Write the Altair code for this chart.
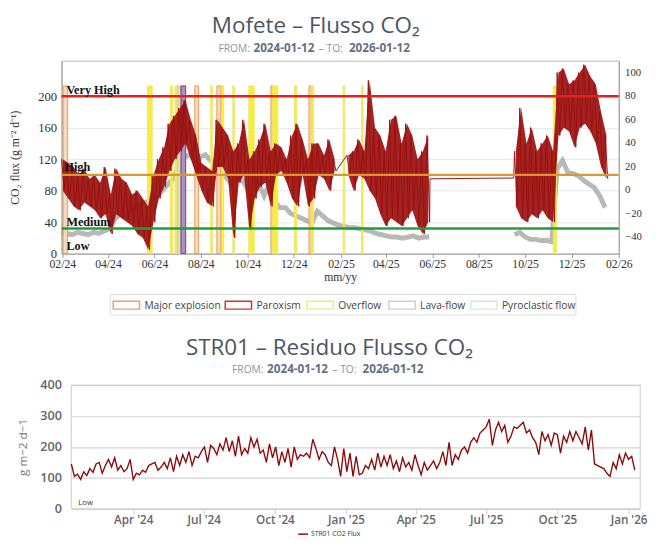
import altair as alt
import pandas as pd

SERIF = "Liberation Serif"
SANS = "Open Sans"

# ---------------- Mofete - CO2 flux (left axis), weekly high / low ----------------
red_seg_start = ["2024-01-31", "2025-02-09", "2025-09-17"]
red_hi = [
    [120, 115, 110, 100, 108, 95, 100, 90, 110, 75, 108, 95, 90, 75, 80, 70, 60, 100,
     120, 135, 165, 175, 185, 195, 170, 150, 115, 110, 105, 170, 160, 150, 130, 140,
     170, 120, 130, 145, 165, 130, 140, 135, 120, 150, 165, 145, 120, 140, 140, 125,
     145, 120],
    [125, 130, 145, 130, 220, 160, 150, 130, 170, 175, 140, 165, 150, 120, 130, 150],
    [130, 185, 140, 160, 130, 140, 150, 130, 230, 235, 215, 220, 230, 240, 225, 215,
     180, 150],
]
red_lo = [
    [80, 70, 60, 55, 65, 60, 55, 45, 50, 25, 50, 45, 40, 35, 25, 20, 5, 40, 70, 85,
     105, 120, 130, 140, 120, 100, 80, 65, 60, 110, 110, 95, 20, 90, 100, 30, 70, 85,
     90, 60, 100, 105, 90, 70, 60, 100, 60, 70, 100, 95, 80, 105],
    [100, 80, 100, 95, 80, 70, 50, 35, 45, 40, 35, 45, 55, 35, 25, 40],
    [60, 45, 40, 50, 45, 55, 45, 40, 150, 160, 155, 135, 160, 165, 155, 140, 110, 95],
]
red_gap_dates = ["2025-05-29", "2025-09-16"]
red_gap_vals = [95, 96]

# ---------------- residuals (right axis), weekly ----------------
gray_seg_start = ["2024-01-31", "2025-09-17"]
gray_vals = [
    [-36, -37, -38, -36, -37, -38, -36, -37, -35, -33, -25, -20, -22, -18, -15, -12,
     -10, -8, -5, 0, 5, 10, 20, 28, 30, 25, 28, 30, 25, 22, 15, 10, 5, 12, 8, 0, 10, 5,
     -5, 5, -10, -15, -15, -20, -22, -24, -26, -28, -18, -22, -26, -28, -30, -31, -32,
     -32, -33, -34, -35, -37, -38, -39, -40, -40, -41, -40, -39, -41, -40, -40],
    [-38, -36, -40, -42, -42, -43, -43, -44, 18, 25, 15, 14, 12, 8, 5, 2, -5, -15],
]

# ---------------- volcanic events ----------------
ev_types = ["Major explosion", "Paroxism", "Overflow", "Lava-flow", "Pyroclastic flow"]
ev_type = ["Major explosion", "Overflow", "Overflow", "Overflow", "Lava-flow",
           "Pyroclastic flow", "Paroxism", "Major explosion", "Overflow",
           "Major explosion", "Overflow", "Overflow", "Overflow", "Major explosion",
           "Overflow", "Overflow", "Major explosion", "Overflow", "Overflow",
           "Overflow", "Overflow"]
ev_start = ["2024-02-02", "2024-05-23", "2024-06-22", "2024-06-28", "2024-07-01",
            "2024-07-02", "2024-07-06", "2024-07-24", "2024-08-14", "2024-08-22",
            "2024-08-28", "2024-09-12", "2024-10-03", "2024-11-01", "2024-11-03",
            "2024-12-02", "2024-12-21", "2024-12-24", "2025-02-04", "2025-02-28",
            "2025-11-07"]
ev_end = ["2024-02-08", "2024-05-29", "2024-06-25", "2024-07-01", "2024-07-12",
          "2024-07-04", "2024-07-12", "2024-07-29", "2024-08-16", "2024-08-27",
          "2024-08-31", "2024-09-14", "2024-10-10", "2024-11-03", "2024-11-10",
          "2024-12-05", "2024-12-24", "2024-12-27", "2025-02-06", "2025-03-02",
          "2025-11-11"]

# ---------------- thresholds ----------------
thr_levels = ["Very High", "High", "Medium"]
thr_values = [200, 100, 32]

# ---------------- STR01 residual CO2 flux (every 4 days) ----------------
str_start = "2024-01-12"
str_vals = [
    145, 105, 112, 95, 120,
    108, 130, 118, 145, 150, 115, 140, 160,
    135, 165, 125, 140, 120, 130, 160,
    95, 115, 110, 125, 118, 140, 145, 150,
    125, 135, 150, 130, 165, 120, 170, 140,
    175, 150, 185, 140, 170, 165, 185,
    200, 150, 205, 195, 175, 210, 190, 230,
    185, 220, 170, 235, 175, 195, 180, 230,
    200, 225, 180, 190, 150, 210, 165,
    200, 140, 185, 150, 195, 135, 200, 160,
    175, 170, 180, 165, 225, 195, 160,
    185, 175, 150, 140, 200, 160, 105, 195,
    120, 180, 105, 170, 110, 115, 140, 130,
    160, 125, 180, 135, 170, 140, 175,
    130, 155, 120, 165, 135, 150, 125, 175,
    140, 110, 150, 125, 140, 155, 130,
    150, 185, 140, 215, 140, 175, 160, 190,
    200, 180, 215, 230, 215, 245, 255,
    265, 290, 205, 255, 280, 250, 270, 215,
    235, 265, 260, 270, 280, 245, 255, 230,
    215, 175, 250, 220, 240, 205, 245,
    240, 180, 235, 215, 250, 220, 250, 230,
    210, 265, 190, 255, 145, 140, 135, 130,
    115, 105, 150, 130, 175, 145, 180,
    160, 170, 125,
]


def iso(ts):
    return ts.strftime("%Y-%m-%dT%H:%M:%SZ")


# ---- tables built from the arrays ----
red_rows, band_rows = [], []
for i, (s, his, los) in enumerate(zip(red_seg_start, red_hi, red_lo)):
    for d, h, l in zip(pd.date_range(s, periods=len(his), freq="7D"), his, los):
        red_rows.append({"date": iso(d), "flux": h})
        red_rows.append({"date": iso(d + pd.Timedelta(hours=84)), "flux": l})
        band_rows.append({"date": iso(d + pd.Timedelta(hours=42)), "hi": h, "lo": l,
                          "seg": i})
for d, v in zip(red_gap_dates, red_gap_vals):
    red_rows.append({"date": iso(pd.Timestamp(d)), "flux": v})
red_df = pd.DataFrame(red_rows)
band_df = pd.DataFrame(band_rows)

gray_rows = []
for i, (s, vals) in enumerate(zip(gray_seg_start, gray_vals)):
    for d, v in zip(pd.date_range(s, periods=len(vals), freq="7D"), vals):
        gray_rows.append({"date": iso(d), "res": v, "seg": i})
gray_df = pd.DataFrame(gray_rows)

ev_df = pd.DataFrame({"type": ev_type, "start": ev_start, "end": ev_end})
thr_df = pd.DataFrame({"level": thr_levels, "value": thr_values})
str_df = pd.DataFrame({
    "day": [iso(d) for d in pd.date_range(str_start, periods=len(str_vals), freq="4D")],
    "flux": str_vals,
})
one = pd.DataFrame({"k": [0]})


def txt(text, x, y, **kw):
    return alt.Chart(one).mark_text(text=text, **kw).encode(x=alt.value(x), y=alt.value(y))


def box(x1, x2, y1, y2, **kw):
    return alt.Chart(one).mark_rect(**kw).encode(
        x=alt.value(x1), x2=alt.value(x2), y=alt.value(y1), y2=alt.value(y2))


def dt(y, m, d):
    return alt.DateTime(year=y, month=m, date=d, utc=True)


# ---------------- top chart ----------------
ev_fill = ["#f6d8bc", "#a493c4", "#f7ee3c", "#b4b4b4", "#b9dcb9"]
ev_stroke = ["#e89a5c", "#d42a2a", "#efe66a", "#c8c8c8", "#cfe8cf"]
leg_stroke = ["#e8a070", "#d43030", "#efe97a", "#cfcfcf", "#d3ead3"]

xs_top = alt.Scale(type="utc", domain=[dt(2024, 1, 31), dt(2026, 2, 1)])
top_ticks = [dt(2024 + (1 + 2 * i) // 12, (1 + 2 * i) % 12 + 1, 1) for i in range(13)]
ax_top_x = alt.Axis(values=top_ticks, format="%m/%y", title="mm/yy", labelFont=SERIF,
                    labelFontSize=12, labelColor="#333", titleFont=SERIF, titleFontSize=12,
                    titleFontWeight="normal", titleColor="#333", titlePadding=3, tickSize=4,
                    tickColor="#999", domainColor="#999", grid=False, labelPadding=1,
                    labelFlush=False, labelOverlap=False)
ys_left = alt.Scale(domain=[0, 245], nice=False, zero=False)
ax_left = alt.Axis(orient="left", values=[0, 40, 80, 120, 160, 200],
                   title="CO₂ flux (g m⁻² d⁻¹)", labelFont=SERIF, labelFontSize=13,
                   labelColor="#333", titleFont=SERIF, titleFontSize=12,
                   titleFontWeight="normal", titleColor="#333", ticks=False, labelPadding=5,
                   minExtent=41, maxExtent=41, titlePadding=0, domainColor="#999",
                   grid=True, gridColor="#e6e6e6")
ys_right = alt.Scale(domain=[-54.1, 109.9], nice=False, zero=False)
ax_right = alt.Axis(orient="right", values=list(range(-40, 101, 20)), title=None,
                    labelFont=SERIF, labelFontSize=11, labelColor="#333", ticks=False,
                    labelPadding=6, domainColor="#999", grid=False)

xenc = alt.X("date:T", scale=xs_top, axis=ax_top_x)

gray = alt.Chart(gray_df).mark_line(color="#888888", strokeWidth=5, opacity=0.6).encode(
    x=xenc, y=alt.Y("res:Q", scale=ys_right, axis=ax_right), detail="seg:N")

events = alt.Chart(ev_df).transform_calculate(lo="0", hi="213").mark_rect(
    strokeWidth=1).encode(
    x=alt.X("start:T", scale=xs_top, axis=ax_top_x),
    x2="end:T",
    y=alt.Y("lo:Q", scale=ys_left, axis=ax_left),
    y2="hi:Q",
    fill=alt.Fill("type:N", scale=alt.Scale(domain=ev_types, range=ev_fill), legend=None),
    stroke=alt.Stroke("type:N", scale=alt.Scale(domain=ev_types, range=ev_stroke),
                      legend=None),
)

band = alt.Chart(band_df).mark_area(color="#9b1010", opacity=0.92).encode(
    x=xenc, y=alt.Y("hi:Q", scale=ys_left, axis=ax_left), y2="lo:Q", detail="seg:N")

red = alt.Chart(red_df).mark_line(color="#9b1010", strokeWidth=1).encode(
    x=xenc, y=alt.Y("flux:Q", scale=ys_left, axis=ax_left))

rules = alt.Chart(thr_df).mark_rule(strokeWidth=2.5).encode(
    y=alt.Y("value:Q", scale=ys_left, axis=ax_left),
    color=alt.Color("level:N", scale=alt.Scale(
        domain=thr_levels, range=["#e3201b", "#d99a2b", "#1f9e3e"]), legend=None))

lab_kw = dict(font=SERIF, fontSize=12.5, fontWeight="bold", color="#111",
              align="left", baseline="middle")
top_texts = [
    txt("Very High", 5, 30, **lab_kw),
    txt("High", 3, 109, **lab_kw),
    txt("Medium", 5, 166, **lab_kw),
    txt("Low", 5, 190, **lab_kw),
    txt("Mofete – Flusso CO₂", 261, -28, font=SANS, fontSize=23, color="#4b5663",
        align="center", baseline="alphabetic"),
    txt("FROM:", 161, -9, font=SANS, fontSize=10.5, color="#8796a5", align="left",
        baseline="alphabetic"),
    txt("2024-01-12", 197, -9, font=SANS, fontSize=12, fontWeight="bold",
        color="#5f7184", align="left", baseline="alphabetic"),
    txt("– TO:", 264, -9, font=SANS, fontSize=10.5, color="#8796a5", align="left",
        baseline="alphabetic"),
    txt("2026-01-12", 295, -9, font=SANS, fontSize=12, fontWeight="bold",
        color="#5f7184", align="left", baseline="alphabetic"),
]

# legend of the event types (box, swatches, labels)
leg_sw_x = [53, 168, 252, 336, 420]
leg_parts = [box(50, 528, 240, 261, fill="white", stroke="#dddddd", strokeWidth=1)]
for name, col, sx in zip(ev_types, leg_stroke, leg_sw_x):
    leg_parts.append(box(sx, sx + 27, 247, 255, fill="white", stroke=col, strokeWidth=1.5))
    leg_parts.append(txt(name, sx + 32, 251.5, font=SANS, fontSize=10.5, color="#444",
                         align="left", baseline="middle"))

left = alt.layer(events, band, red, rules, *top_texts, *leg_parts)
top = alt.layer(gray, left).resolve_scale(y="independent").properties(
    width=572, height=198, view=alt.ViewBackground(stroke="#bbbbbb"))

# ---------------- bottom chart ----------------
xs_bot = alt.Scale(type="utc", domain=[dt(2024, 1, 12), dt(2026, 1, 16)], range=[10, 594])
bot_ticks = [dt(2024, 4, 1), dt(2024, 7, 1), dt(2024, 10, 1), dt(2025, 1, 1),
             dt(2025, 4, 1), dt(2025, 7, 1), dt(2025, 10, 1), dt(2026, 1, 1)]
ax_bot_x = alt.Axis(values=bot_ticks, format="%b '%y", title=None, labelFont=SANS,
                    labelFontSize=12, labelColor="#666", labelFontWeight=600, tickSize=5,
                    tickColor="#cccccc", domain=False, grid=False, labelPadding=1,
                    labelFlush=False, labelOverlap=False)
ax_bot_y = alt.Axis(values=[0, 100, 200, 300, 400], title="g m−2 d−1", labelFont=SANS,
                    labelFontSize=13, labelColor="#666", labelFontWeight=600,
                    titleFont=SANS, titleFontSize=12, titleFontWeight="normal",
                    titleColor="#777", ticks=False, domain=False, labelPadding=0,
                    minExtent=31, maxExtent=31, titlePadding=2, grid=True,
                    gridColor="#d4d4d4", gridWidth=1.2)

str_line = alt.Chart(str_df).mark_line(color="#8b0a0a", strokeWidth=1.4).encode(
    x=alt.X("day:T", scale=xs_bot, axis=ax_bot_x),
    y=alt.Y("flux:Q", scale=alt.Scale(domain=[0, 400], nice=False), axis=ax_bot_y))

bot_mask = box(0.5, 9.5, -2, 129, fill="white", strokeWidth=0)
bot_frame = box(10, 594, 0, 127, fill="transparent", stroke="#cccccc", strokeWidth=1)

bot_texts = [
    txt("STR01 – Residuo Flusso CO₂", 275, -31, font=SANS, fontSize=23,
        color="#4b5663", align="center", baseline="alphabetic"),
    txt("FROM:", 175, -12, font=SANS, fontSize=10.5, color="#8796a5", align="left",
        baseline="alphabetic"),
    txt("2024-01-12", 211, -12, font=SANS, fontSize=12, fontWeight="bold",
        color="#5f7184", align="left", baseline="alphabetic"),
    txt("– TO:", 278, -12, font=SANS, fontSize=10.5, color="#8796a5", align="left",
        baseline="alphabetic"),
    txt("2026-01-12", 309, -12, font=SANS, fontSize=12, fontWeight="bold",
        color="#5f7184", align="left", baseline="alphabetic"),
    txt("Low", 17, 121, font=SANS, fontSize=8, color="#333", align="left",
        baseline="middle"),
    txt("STR01 CO2 Flux", 256, 153, font=SANS, fontSize=7, color="#333", align="left",
        baseline="middle"),
]
legend_sample = alt.Chart(one).mark_rule(color="#8b0a0a", strokeWidth=1.5).encode(
    x=alt.value(243), x2=alt.value(253), y=alt.value(153))

bottom = alt.layer(bot_mask, bot_frame, str_line, legend_sample, *bot_texts).properties(
    width=594, height=127, view=alt.ViewBackground(stroke="transparent"))

chart = alt.vconcat(top, bottom, spacing=21).resolve_scale(
    x="independent", y="independent").properties(
    padding={"left": 0, "top": 0, "right": 0, "bottom": 0}, background="white")

chart.save("out.html", embed_options={"renderer": "svg", "actions": False})
